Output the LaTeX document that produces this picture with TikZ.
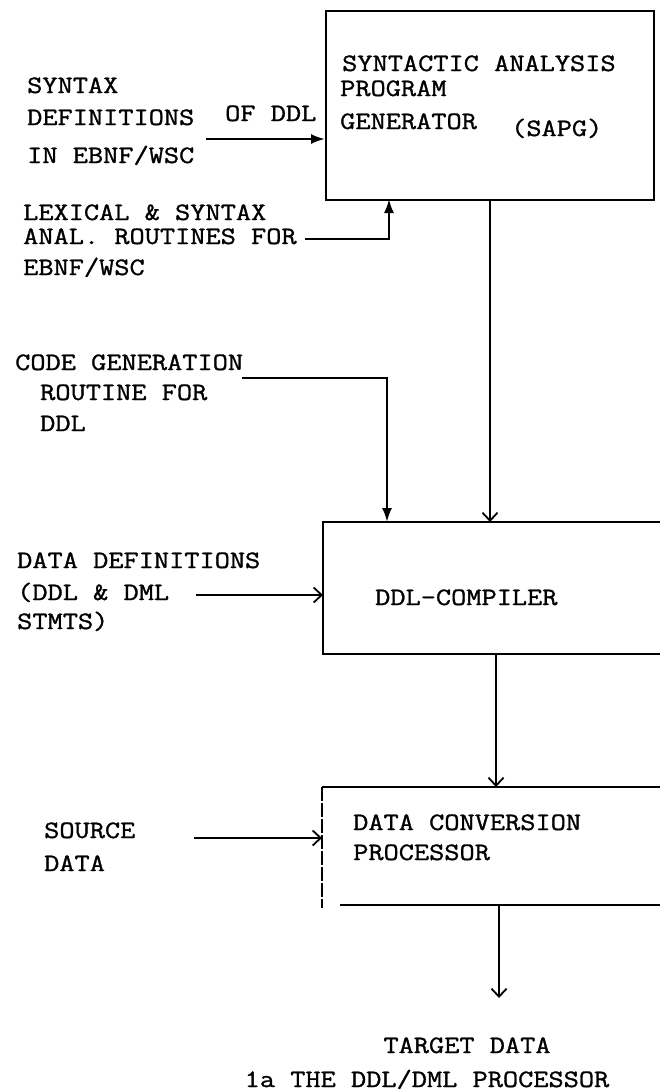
\documentclass[tikz,border=0pt]{standalone}
\usepackage{fontspec}
\setmainfont{Latin Modern Mono}[FakeStretch=1.18,FakeBold=1.2]
\usetikzlibrary{arrows.meta}
\begin{document}
\begin{tikzpicture}[x=1pt,y=-1pt,
  lbl/.style={anchor=base west,inner sep=0pt,font=\fontsize{25}{27}\selectfont},
  ln/.style={line width=2.2pt},
  fa/.style={ln,-{Latex[length=14pt,width=10pt]}},
  oa/.style={ln,-{Straight Barb[length=8pt,width=15pt,line width=1.8pt]}},
  boxarea/.style={inner sep=0pt,anchor=north west}]
\useasboundingbox (0,0) rectangle (660,1092);
\fill[white] (0,0) rectangle (660,1092);
% boxes
\node[boxarea,draw,ln,minimum width=328pt,minimum height=189pt] (sapg) at (325,10) {};
\node[boxarea,minimum width=337pt,minimum height=132pt] (ddl) at (323,522) {};
\draw[ln] (660,522) -- (323,522) -- (323,654) -- (660,654);
\node[boxarea,minimum width=338pt,minimum height=118pt] (dcp) at (322,787) {};
\draw[ln] (322,787) -- (660,787);
\draw[line width=1.1pt,dash pattern=on 14pt off 2pt] (322,787) -- (322,908);
\draw[ln] (340,905) -- (660,905);
% box texts
\node[lbl] (t1) at (342,71) {SYNTACTIC ANALYSIS};
\node[lbl] (t2) at (340,96) {PROGRAM};
\node[lbl] (t3) at (340,129) {GENERATOR};
\node[lbl] (t4) at (511,136) {(SAPG)};
\node[lbl] (t5) at (375,605) {DDL-COMPILER};
\node[lbl] (t6) at (353,830) {DATA CONVERSION};
\node[lbl] (t7) at (353,860) {PROCESSOR};
% left labels
\node[lbl] (s1) at (27,93) {SYNTAX};
\node[lbl] (s2) at (27,125) {DEFINITIONS};
\node[lbl] (s3) at (225,121) {OF DDL};
\node[lbl] (s4) at (27,163) {IN EBNF/WSC};
\node[lbl] (l1) at (23,220) {LEXICAL \& SYNTAX};
\node[lbl] (l2) at (23,244) {ANAL. ROUTINES FOR};
\node[lbl] (l3) at (23,275) {EBNF/WSC};
\node[lbl] (c1) at (15,370) {CODE GENERATION};
\node[lbl] (c2) at (40,400) {ROUTINE FOR};
\node[lbl] (c3) at (40,431) {DDL};
\node[lbl] (d1) at (17,568) {DATA DEFINITIONS};
\node[lbl] (d2) at (17,600) {(DDL \& DML};
\node[lbl] (d3) at (17,629) {STMTS)};
\node[lbl] (r1) at (44,838) {SOURCE};
\node[lbl] (r2) at (44,871) {DATA};
\node[lbl,anchor=base] (g1) at (467,1053) {TARGET DATA};
\node[lbl,anchor=base] (g2) at (427,1087) {1a THE DDL/DML PROCESSOR};
% connector end points
\coordinate (synS) at (206,139);
\coordinate (lexS) at (305,239);
\coordinate (lexT) at (389,199);
\coordinate (cgS) at (242,378);
\coordinate (cgT) at (387,522);
\coordinate (mainS) at (490,199);
\coordinate (mainT) at (490,522);
\coordinate (ddS) at (196,595);
\coordinate (ddlOut) at (496,654);
\coordinate (dcpIn) at (496,787);
\coordinate (srcS) at (194,838);
\coordinate (dcpOut) at (499,905);
\coordinate (tgt) at (499,998);
% connectors
\draw[fa] (synS) -- (synS -| sapg.west);
\draw[fa] (lexS) -| (lexT);
\draw[fa] (cgS) -| (cgT);
\draw[oa] (mainS) -- (mainT);
\draw[oa] (ddS) -- (ddS -| ddl.west);
\draw[oa] (ddlOut) -- (dcpIn);
\draw[oa] (srcS) -- (srcS -| dcp.west);
\draw[oa] (dcpOut) -- (tgt);
\end{tikzpicture}
\end{document}
